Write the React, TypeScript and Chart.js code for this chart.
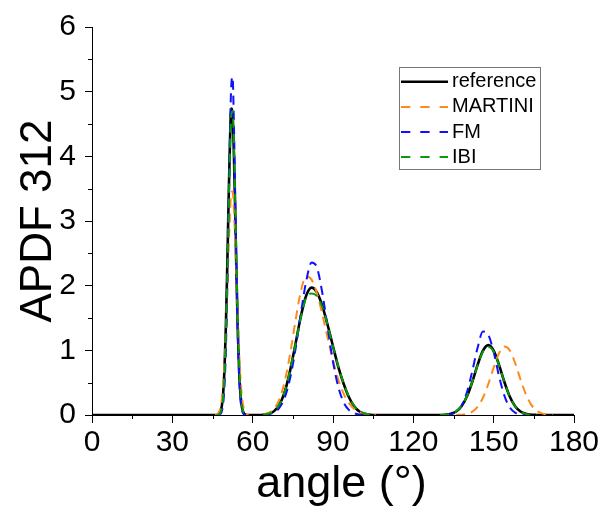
import React, { useEffect, useRef } from 'react';
import { Chart, registerables } from 'chart.js';

Chart.register(...registerables);

const FONT = "'Liberation Sans', Arial, sans-serif";

// ---- data ----
const seriesLabels = ['reference', 'MARTINI', 'FM', 'IBI'];
const xTitle = 'angle (°)';
const yTitle = 'APDF 312';

const xTickStep = 30;
const yTickStep = 1;
const xMinorTicks = [15, 45, 75, 105, 135, 165];
const yMinorTicks = [0.5, 1.5, 2.5, 3.5, 4.5, 5.5];

const baselineStart = 0;
const baselineEnd = 180;

const peak1Angles = [46, 46.5, 47, 47.5, 48, 48.5, 49, 49.5, 50, 50.5, 51, 51.5, 52, 52.5, 53, 53.5, 54, 54.5, 55, 55.5, 56, 56.5, 57, 57.5, 58, 58.5];
const peak2Angles = [64, 66, 68, 70, 72, 74, 76, 78, 80, 82, 84, 86, 88, 90, 92, 94, 96, 98, 100, 102, 104, 106];
const peak3Angles = [130, 132, 134, 136, 138, 140, 142, 144, 146, 148, 150, 152, 154, 156, 158, 160, 162, 164, 166, 168, 170, 172];

const referenceP1 = [0, 0, 0.005, 0.017, 0.053, 0.145, 0.348, 0.738, 1.379, 2.268, 3.283, 4.183, 4.74, 4.62, 4.026, 3.081, 2.074, 1.229, 0.641, 0.295, 0.119, 0.042, 0.013, 0.004, 0, 0];
const referenceP2 = [0.005, 0.02, 0.06, 0.16, 0.36, 0.69, 1.10, 1.527, 1.848, 1.97, 1.895, 1.688, 1.392, 1.063, 0.74, 0.48, 0.27, 0.13, 0.05, 0.02, 0.005, 0];
const referenceP3 = [0.001, 0.005, 0.018, 0.054, 0.135, 0.285, 0.51, 0.774, 0.994, 1.08, 0.994, 0.774, 0.51, 0.285, 0.135, 0.054, 0.018, 0.005, 0.001, 0, 0, 0];

const martiniP1 = [0.002, 0.007, 0.02, 0.051, 0.117, 0.245, 0.471, 0.825, 1.317, 1.92, 2.552, 3.094, 3.423, 3.455, 3.181, 2.671, 2.046, 1.431, 0.912, 0.531, 0.282, 0.136, 0.06, 0.024, 0.009, 0.003];
const martiniP2 = [0.01, 0.034, 0.099, 0.247, 0.524, 0.948, 1.46, 1.916, 2.143, 2.094, 1.883, 1.561, 1.193, 0.84, 0.545, 0.326, 0.179, 0.091, 0.043, 0.018, 0.007, 0.002];
const martiniP3 = [null, null, null, 0.001, 0.005, 0.018, 0.051, 0.127, 0.267, 0.479, 0.732, 0.954, 1.058, 1.0, 0.806, 0.553, 0.324, 0.161, 0.069, 0.025, 0.008, 0.002];

const fmP1 = [null, null, 0.001, 0.004, 0.017, 0.059, 0.179, 0.46, 1.015, 1.916, 3.097, 4.289, 5.09, 5.23, 4.493, 3.348, 2.136, 1.166, 0.546, 0.219, 0.075, 0.022, 0.005, 0.001, null, null];
const fmP2 = [0.003, 0.012, 0.039, 0.112, 0.272, 0.57, 1.021, 1.571, 2.072, 2.36, 2.28, 1.89, 1.347, 0.824, 0.432, 0.194, 0.075, 0.025, 0.007, 0.001, null, null];
const fmP3 = [null, 0.003, 0.012, 0.048, 0.145, 0.35, 0.677, 1.041, 1.29, 1.24, 0.973, 0.604, 0.299, 0.118, 0.037, 0.009, 0.002, null, null, null, null, null];

const ibiP1 = [null, 0.001, 0.004, 0.013, 0.042, 0.119, 0.294, 0.639, 1.224, 2.065, 3.068, 4.009, 4.62, 4.7, 4.165, 3.27, 2.258, 1.373, 0.735, 0.346, 0.144, 0.052, 0.017, 0.005, 0.001, null];
const ibiP2 = [0.006, 0.022, 0.065, 0.165, 0.365, 0.7, 1.1, 1.51, 1.82, 1.88, 1.84, 1.67, 1.385, 1.06, 0.745, 0.485, 0.28, 0.135, 0.055, 0.02, 0.006, 0.001];
const ibiP3 = [0.001, 0.006, 0.02, 0.058, 0.14, 0.29, 0.51, 0.77, 0.98, 1.05, 0.98, 0.77, 0.51, 0.285, 0.135, 0.054, 0.018, 0.005, 0.001, null, null, null];

type Pt = { x: number; y: number | null };

function segment(angles: number[], values: (number | null)[]): Pt[] {
  return angles.map((a, i) => ({ x: a, y: values[i] }));
}

function gap(at: number): Pt {
  return { x: at, y: null };
}

const minorTicksPlugin = {
  id: 'minorTicks',
  afterDraw(chart: any) {
    const { ctx, chartArea } = chart;
    const xs = chart.scales.x;
    const ys = chart.scales.y;
    ctx.save();
    ctx.strokeStyle = '#000';
    ctx.lineWidth = 1;
    ctx.beginPath();
    for (const v of xMinorTicks) {
      const px = Math.round(xs.getPixelForValue(v)) + 0.5;
      ctx.moveTo(px, chartArea.bottom);
      ctx.lineTo(px, chartArea.bottom + 4);
    }
    for (const v of yMinorTicks) {
      const py = Math.round(ys.getPixelForValue(v)) + 0.5;
      ctx.moveTo(chartArea.left - 4, py);
      ctx.lineTo(chartArea.left, py);
    }
    ctx.stroke();

    // x axis title (slightly right of the plot centre, as in the reference)
    ctx.font = `45px ${FONT}`;
    ctx.fillStyle = '#000';
    ctx.textAlign = 'center';
    ctx.textBaseline = 'alphabetic';
    ctx.fillText(xTitle, (chartArea.left + chartArea.right) / 2 + 8.5, 497);
    ctx.restore();
  },
};

const legendPlugin = {
  id: 'boxLegend',
  afterDatasetsDraw(chart: any) {
    const { ctx } = chart;
    const left = 399.5;
    const top = 67.5;
    const w = 141;
    const h = 102;
    const lineX0 = 401;
    const lineX1 = 448;
    const textX = 452;
    const firstY = 81.8;
    const stepY = 25.1;
    ctx.save();
    ctx.strokeStyle = '#777';
    ctx.lineWidth = 1;
    ctx.setLineDash([]);
    ctx.strokeRect(left, top, w, h);
    ctx.font = `20px ${FONT}`;
    ctx.textBaseline = 'middle';
    ctx.textAlign = 'left';
    chart.data.datasets.forEach((ds: any, i: number) => {
      const y = firstY + i * stepY;
      ctx.beginPath();
      ctx.strokeStyle = ds.borderColor;
      ctx.lineWidth = ds.borderWidth;
      ctx.setLineDash(ds.borderDash && ds.borderDash.length ? [9.3, 10] : []);
      ctx.moveTo(lineX0, y);
      ctx.lineTo(lineX1, y);
      ctx.stroke();
      ctx.setLineDash([]);
      ctx.fillStyle = '#000';
      ctx.fillText(ds.label, textX, y);
    });
    ctx.restore();
  },
};

export default function App() {
  const canvasRef = useRef<HTMLCanvasElement | null>(null);

  useEffect(() => {
    const canvas = canvasRef.current;
    if (!canvas) return;

    const referenceData: Pt[] = [
      { x: baselineStart, y: 0 },
      ...segment(peak1Angles, referenceP1),
      ...segment(peak2Angles, referenceP2),
      ...segment(peak3Angles, referenceP3),
      { x: baselineEnd, y: 0 },
    ];
    const build = (p1: (number | null)[], p2: (number | null)[], p3: (number | null)[]): Pt[] => [
      ...segment(peak1Angles, p1),
      gap(61),
      ...segment(peak2Angles, p2),
      gap(118),
      ...segment(peak3Angles, p3),
    ];

    const common = {
      pointRadius: 0,
      pointHoverRadius: 0,
      fill: false,
      spanGaps: false,
      cubicInterpolationMode: 'monotone' as const,
    };

    const chart = new Chart(canvas, {
      type: 'line',
      data: {
        datasets: [
          { ...common, label: seriesLabels[0], data: referenceData as any, borderColor: '#000000', borderWidth: 2.6, borderDash: [], order: 4 },
          { ...common, label: seriesLabels[1], data: build(martiniP1, martiniP2, martiniP3) as any, borderColor: '#ff8a1c', borderWidth: 2, borderDash: [9, 6], order: 3 },
          { ...common, label: seriesLabels[2], data: build(fmP1, fmP2, fmP3) as any, borderColor: '#1010ff', borderWidth: 2, borderDash: [9, 6], order: 2 },
          { ...common, label: seriesLabels[3], data: build(ibiP1, ibiP2, ibiP3) as any, borderColor: '#0a9a0a', borderWidth: 2, borderDash: [9, 6], order: 1 },
        ],
      },
      options: {
        animation: false,
        responsive: false,
        devicePixelRatio: 1,
        layout: { padding: { top: 26, right: 31, left: 0, bottom: 0 } },
        plugins: {
          legend: { display: false },
          tooltip: { enabled: false },
        },
        scales: {
          x: {
            type: 'linear',
            min: 0,
            max: 180,
            ticks: {
              stepSize: xTickStep,
              autoSkip: false,
              maxRotation: 0,
              padding: 2,
              color: '#000',
              font: { family: FONT, size: 30 },
            },
            grid: { drawOnChartArea: false, drawTicks: true, tickLength: 8, color: '#000', tickColor: '#000' },
            border: { display: true, color: '#000', width: 1 },
            title: { display: false, text: xTitle },
            afterFit: (s: any) => {
              s.height = 93;
            },
          },
          y: {
            type: 'linear',
            min: 0,
            max: 6,
            ticks: {
              stepSize: yTickStep,
              padding: 9,
              color: '#000',
              font: { family: FONT, size: 30 },
            },
            grid: { drawOnChartArea: false, drawTicks: true, tickLength: 7, color: '#000', tickColor: '#000' },
            border: { display: true, color: '#000', width: 1 },
            title: {
              display: true,
              text: yTitle,
              color: '#000',
              font: { family: FONT, size: 44 },
              padding: { top: 12, bottom: 0 },
            },
            afterFit: (s: any) => {
              s.width = 92;
            },
          },
        },
      },
      plugins: [minorTicksPlugin, legendPlugin],
    } as any);

    return () => {
      chart.destroy();
    };
  }, []);

  return (
    <div style={{ position: 'absolute', left: 0, top: 0, width: 605, height: 508, background: '#fff' }}>
      <canvas ref={canvasRef} width={605} height={508} style={{ display: 'block', width: 605, height: 508 }} />
    </div>
  );
}
